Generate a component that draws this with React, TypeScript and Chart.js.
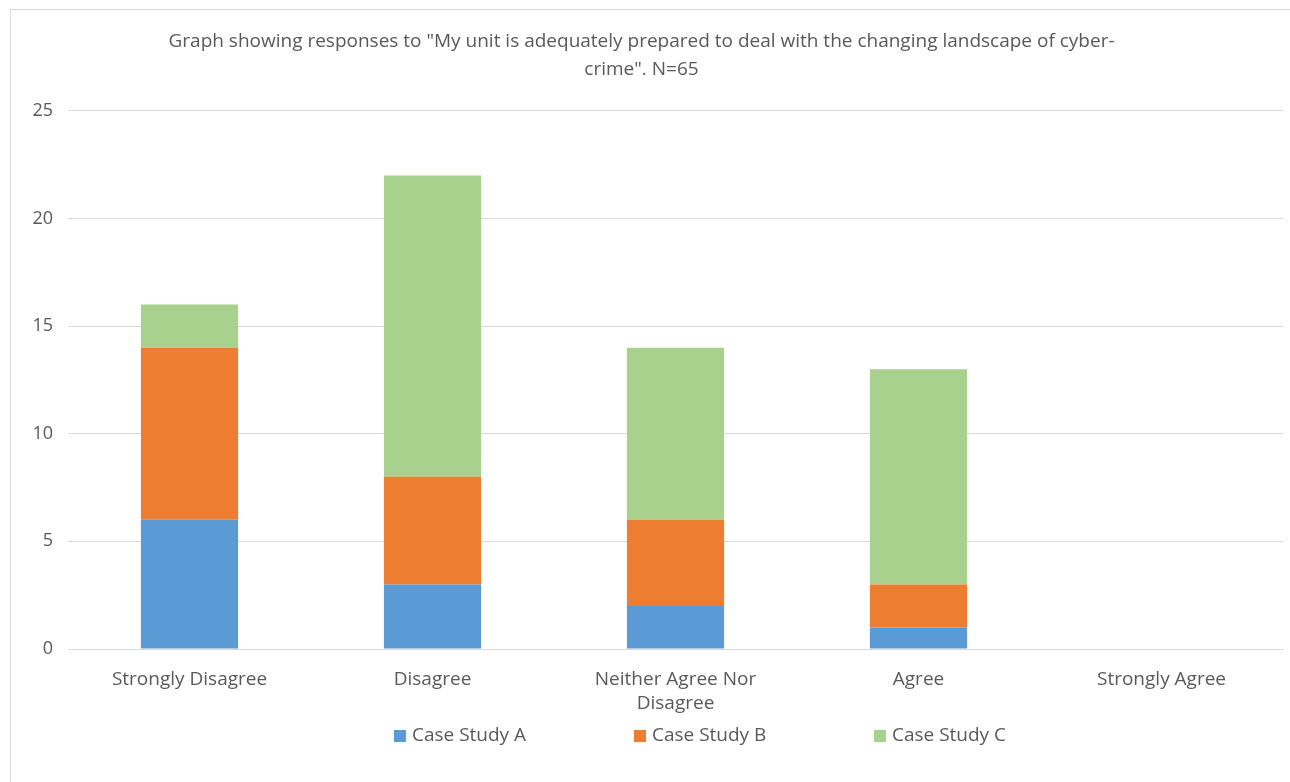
import React, { useEffect, useRef } from "react";
import { Chart, registerables } from "chart.js";

Chart.register(...registerables);

const categories: (string | string[])[] = [
  "Strongly Disagree",
  "Disagree",
  ["Neither Agree Nor", "Disagree"],
  "Agree",
  "Strongly Agree",
];
const caseStudyA = [6, 3, 2, 1, 0];
const caseStudyB = [8, 5, 4, 2, 0];
const caseStudyC = [2, 14, 8, 10, 0];
const seriesNames = ["Case Study A", "Case Study B", "Case Study C"];
const seriesColors = ["#5B9BD5", "#ED7D31", "#A9D18E"];
const titleLines = [
  'Graph showing responses to "My unit is adequately prepared to deal with the changing landscape of cyber-',
  'crime". N=65',
];
const yMax = 25;
const yStep = 5;

const FONT = "'Open Sans', 'Noto Sans', sans-serif";
const GRAY = "#595959";

const bottomLegend = {
  id: "bottomLegend",
  afterDraw(chart: any) {
    const ctx = chart.ctx;
    const pitch = 240;
    const box = 12;
    const gap = 6;
    const y = 736;
    ctx.save();
    ctx.font = `19px ${FONT}`;
    ctx.textBaseline = "middle";
    ctx.textAlign = "left";
    const items = chart.data.datasets;
    const lastW = box + gap + ctx.measureText(items[items.length - 1].label).width;
    const total = pitch * (items.length - 1) + lastW;
    const center = 700;
    let x = center - total / 2;
    items.forEach((ds: any) => {
      ctx.fillStyle = ds.backgroundColor;
      ctx.fillRect(x, y - box / 2, box, box);
      ctx.fillStyle = GRAY;
      ctx.fillText(ds.label, x + box + gap, y);
      x += pitch;
    });
    ctx.restore();
  },
};

export default function App() {
  const ref = useRef<HTMLCanvasElement | null>(null);
  useEffect(() => {
    document.body.style.margin = "0";
    const chart = new Chart(ref.current!, {
      type: "bar",
      data: {
        labels: categories,
        datasets: [
          { label: seriesNames[0], data: caseStudyA, backgroundColor: seriesColors[0] },
          { label: seriesNames[1], data: caseStudyB, backgroundColor: seriesColors[1] },
          { label: seriesNames[2], data: caseStudyC, backgroundColor: seriesColors[2] },
        ],
      },
      options: {
        responsive: false,
        animation: false,
        layout: { padding: { left: 0, right: 7, top: 28, bottom: 0 } },
        datasets: { bar: { categoryPercentage: 0.4, barPercentage: 1 } },
        plugins: {
          title: {
            display: true,
            text: titleLines,
            color: GRAY,
            font: { family: FONT, size: 19, weight: "normal", lineHeight: 1.47 },
            padding: { top: 0, bottom: 27 },
          },
          legend: { display: false },
          tooltip: { enabled: false },
        },
        scales: {
          x: {
            stacked: true,
            grid: { display: false },
            border: { color: "#d9d9d9" },
            ticks: {
              color: GRAY,
              font: { family: FONT, size: 19, lineHeight: 1.3 },
              padding: 10,
              maxRotation: 0,
            },
            afterFit: (s: any) => { s.height = 133; },
          },
          y: {
            stacked: true,
            min: 0,
            max: yMax,
            grid: { color: "#d9d9d9", drawTicks: false },
            border: { display: false },
            ticks: { stepSize: yStep, color: GRAY, font: { family: FONT, size: 18 }, padding: 15 },
            afterFit: (s: any) => { s.width = 68; },
          },
        },
      },
      plugins: [bottomLegend],
    });
    return () => chart.destroy();
  }, []);
  return (
    <div style={{ position: "relative", width: 1290, height: 782, background: "#fff", overflow: "hidden" }}>
      <div
        style={{
          position: "absolute",
          left: 10,
          top: 9,
          width: 1300,
          height: 800,
          border: "1px solid #d9d9d9",
          boxSizing: "border-box",
        }}
      />
      <canvas ref={ref} width={1290} height={782} style={{ position: "absolute", left: 0, top: 0 }} />
    </div>
  );
}
